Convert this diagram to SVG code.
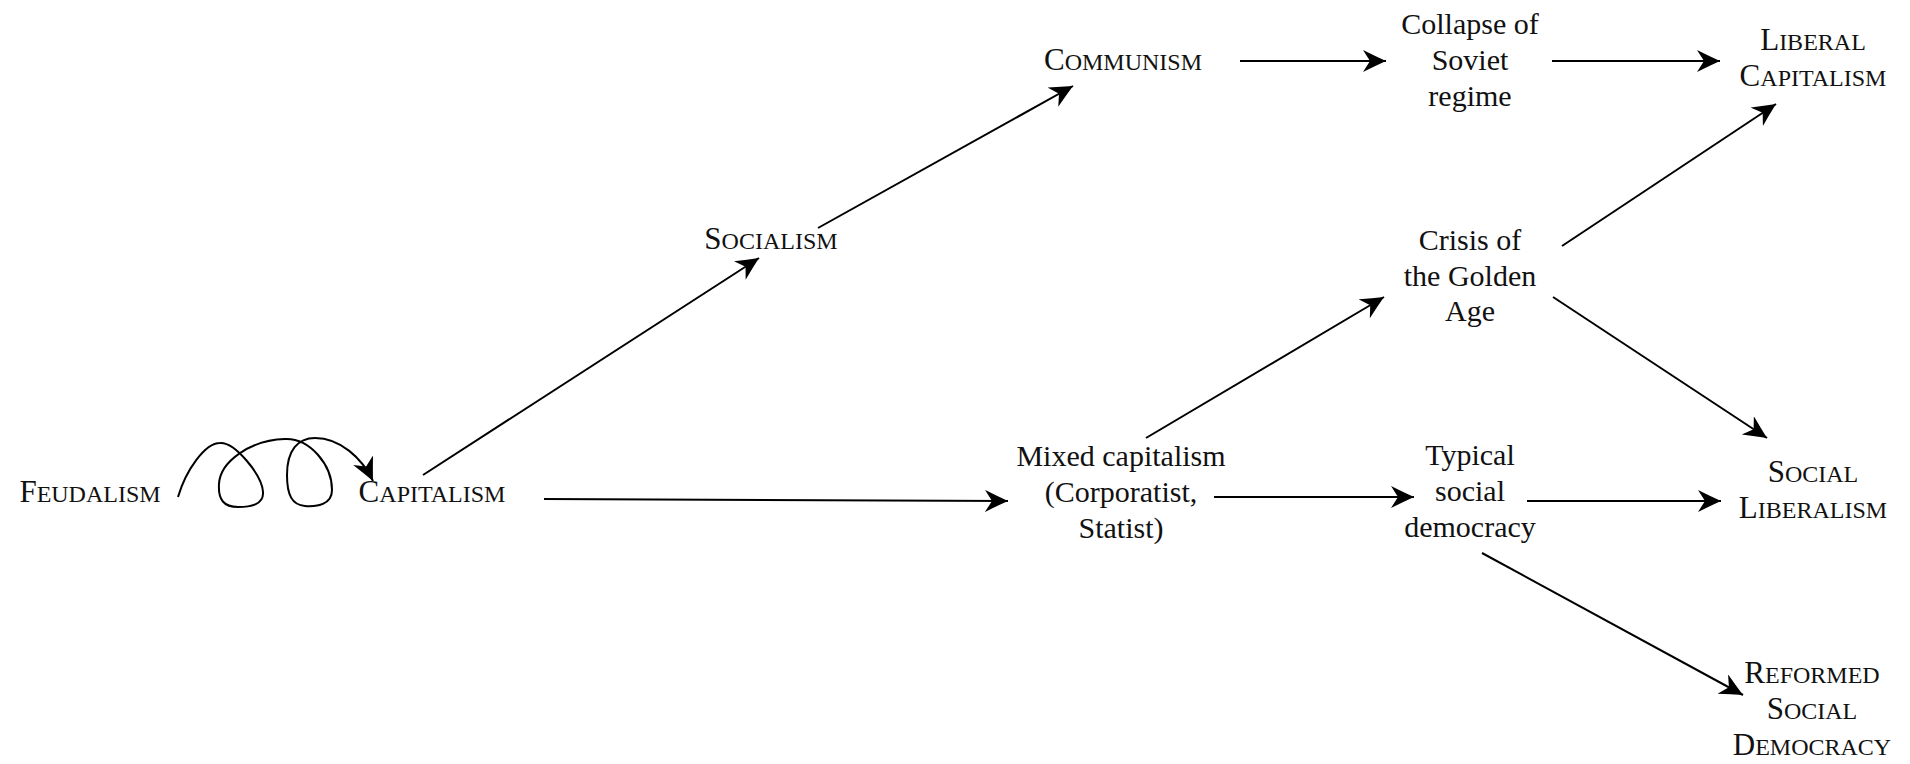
<svg xmlns="http://www.w3.org/2000/svg" width="1910" height="764" viewBox="0 0 1910 764">
<style>
text{font-family:"Liberation Serif","Times New Roman",serif;fill:#111;text-anchor:middle;font-size:30px}
.sc{font-size:24px}
.cap{font-size:31px}
.edge{fill:none;stroke:#000;stroke-width:2;marker-end:url(#arr)}
</style>
<defs>
<marker id="arr" markerUnits="userSpaceOnUse" markerWidth="26" markerHeight="24" refX="23" refY="11" orient="auto">
<path d="M0,0 Q12,6 23,11 Q12,16 0,22 L7,11 Z" fill="#000"/>
</marker>
</defs>
<rect width="1910" height="764" fill="#fff"/>
<g id="connectors">
<path class="edge" d="M178,497 C186,470 205,443 220,443 C235,442 262,475 263,492 C264,505 250,507 238,507 C224,507 218,500 219,484 C220,462 250,440 285,439 C310,438 332,465 332,490 C332,504 318,507 305,506 C292,505 287,495 287,475 C287,450 298,438 315,438 C340,438 362,458 373,481"/>
<line class="edge" x1="423" y1="475" x2="759" y2="258"/>
<line class="edge" x1="818" y1="228" x2="1073" y2="86"/>
<line class="edge" x1="1240" y1="61" x2="1386" y2="61"/>
<line class="edge" x1="1552" y1="61" x2="1720" y2="61"/>
<line class="edge" x1="544" y1="499" x2="1008" y2="501"/>
<line class="edge" x1="1146" y1="438" x2="1384" y2="297"/>
<line class="edge" x1="1214" y1="497" x2="1414" y2="497"/>
<line class="edge" x1="1562" y1="246" x2="1776" y2="104"/>
<line class="edge" x1="1553" y1="297" x2="1767" y2="438"/>
<line class="edge" x1="1527" y1="501" x2="1721" y2="501"/>
<line class="edge" x1="1482" y1="553" x2="1743" y2="695"/>
</g>
<g id="feudalism"><text class="sc" x="90" y="502"><tspan class="cap">F</tspan>EUDALISM</text></g>
<g id="capitalism"><text class="sc" x="432" y="502"><tspan class="cap">C</tspan>APITALISM</text></g>
<g id="socialism"><text class="sc" x="771" y="249"><tspan class="cap">S</tspan>OCIALISM</text></g>
<g id="communism"><text class="sc" x="1123" y="70"><tspan class="cap">C</tspan>OMMUNISM</text></g>
<g id="collapse">
<text x="1470" y="34">Collapse of</text>
<text x="1470" y="70">Soviet</text>
<text x="1470" y="106">regime</text>
</g>
<g id="liberal-capitalism">
<text class="sc" x="1813" y="50"><tspan class="cap">L</tspan>IBERAL</text>
<text class="sc" x="1813" y="86"><tspan class="cap">C</tspan>APITALISM</text>
</g>
<g id="crisis">
<text x="1470" y="250">Crisis of</text>
<text x="1470" y="286">the Golden</text>
<text x="1470" y="321">Age</text>
</g>
<g id="mixed">
<text x="1121" y="466">Mixed capitalism</text>
<text x="1121" y="502">(Corporatist,</text>
<text x="1121" y="538">Statist)</text>
</g>
<g id="typical">
<text x="1470" y="465">Typical</text>
<text x="1470" y="501">social</text>
<text x="1470" y="537">democracy</text>
</g>
<g id="social-liberalism">
<text class="sc" x="1813" y="482"><tspan class="cap">S</tspan>OCIAL</text>
<text class="sc" x="1813" y="518"><tspan class="cap">L</tspan>IBERALISM</text>
</g>
<g id="reformed">
<text class="sc" x="1812" y="683"><tspan class="cap">R</tspan>EFORMED</text>
<text class="sc" x="1812" y="719"><tspan class="cap">S</tspan>OCIAL</text>
<text class="sc" x="1812" y="755"><tspan class="cap">D</tspan>EMOCRACY</text>
</g>
</svg>
